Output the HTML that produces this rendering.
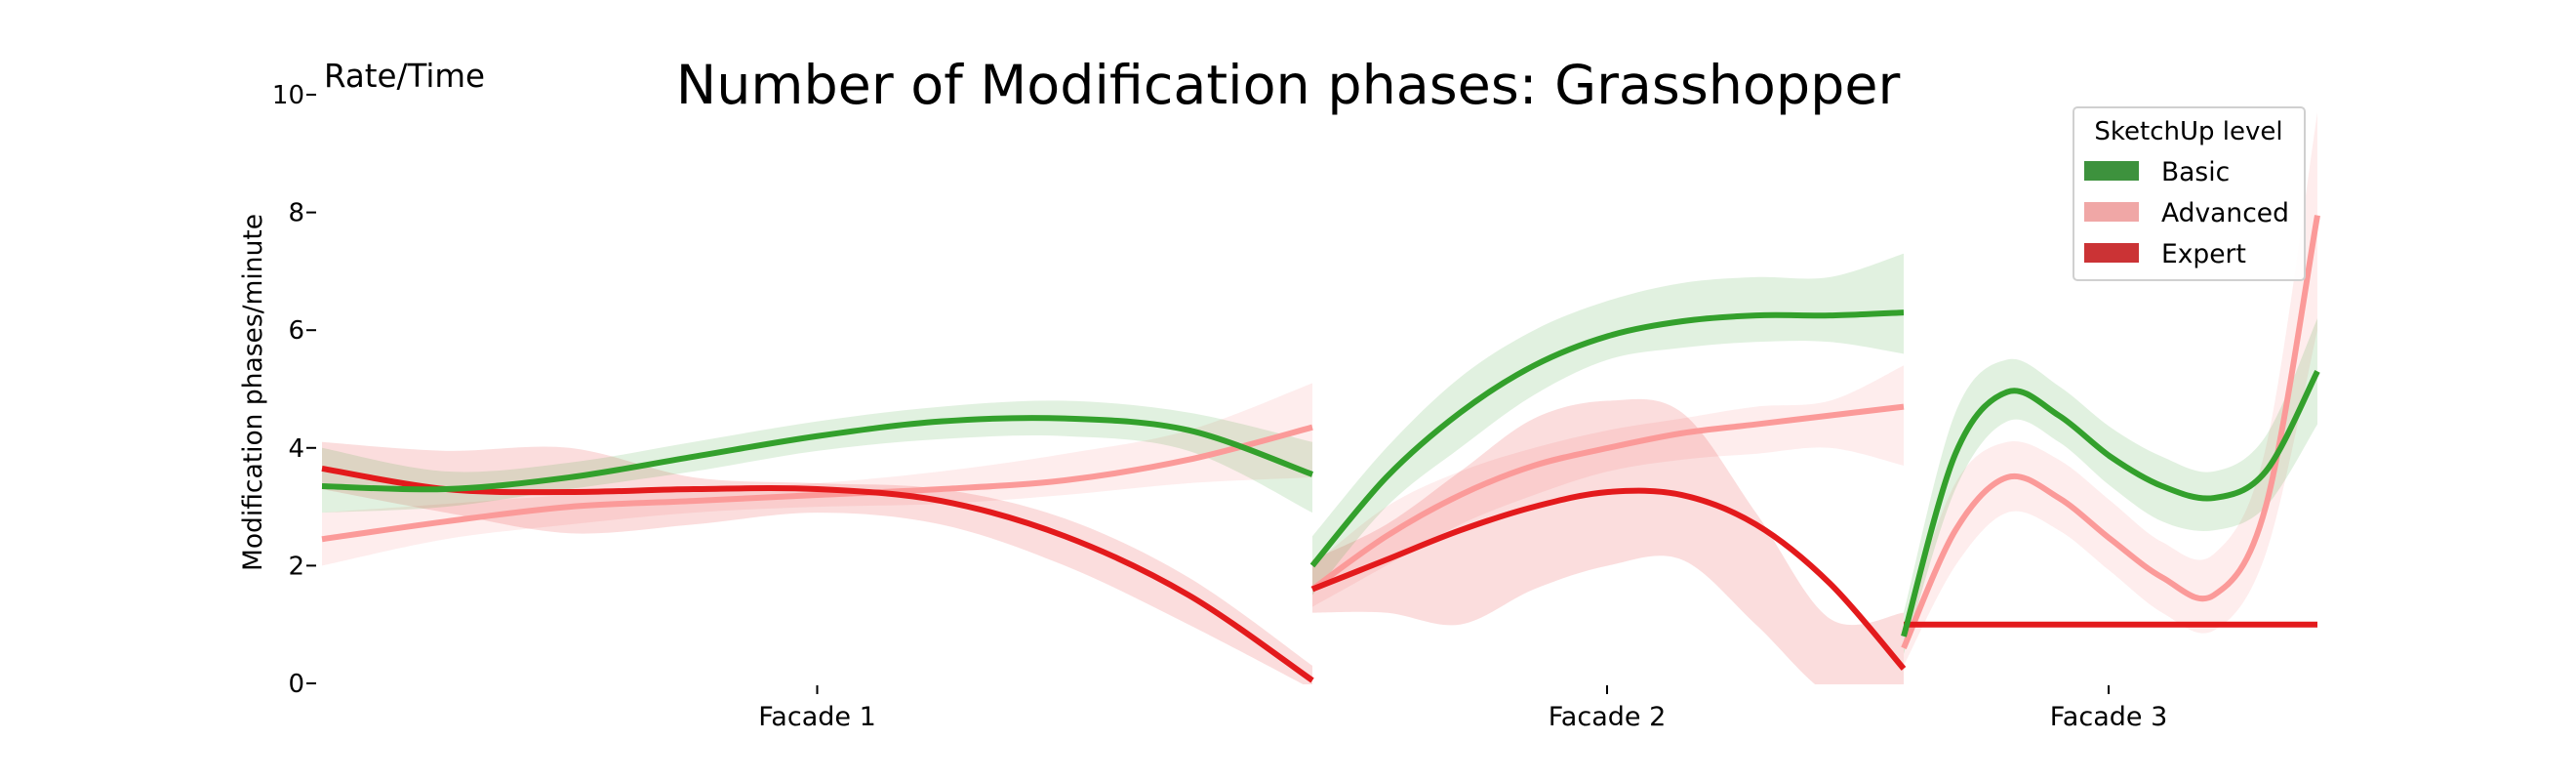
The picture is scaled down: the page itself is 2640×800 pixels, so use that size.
<!DOCTYPE html>
<html><head><meta charset="utf-8"><style>
html,body{margin:0;padding:0;background:#fff;}
svg{display:block;font-family:"DejaVu Sans","Liberation Sans",sans-serif;}
</style></head><body>
<svg id="chart" width="2640" height="800" viewBox="0 0 2640 800">
<defs><clipPath id="plotclip"><rect x="320" y="60" width="2100" height="641"/></clipPath></defs>
<text x="1320" y="106" font-size="55.5" text-anchor="middle">Number of Modification phases: Grasshopper</text>
<text x="332" y="89" font-size="32.5">Rate/Time</text>
<text transform="translate(268,402) rotate(-90)" font-size="26.5" text-anchor="middle">Modification phases/minute</text>
<g id="yaxis"></g>
<g id="xaxis"></g>
<g id="plot" clip-path="url(#plotclip)"></g>
<g>
<rect x="2125" y="110" width="237" height="177" rx="4" fill="#fff" fill-opacity="0.85" stroke="#d0d0d0" stroke-width="2"/>
<text x="2243" y="143" font-size="26" text-anchor="middle">SketchUp level</text>
<rect x="2136" y="165" width="56" height="20" fill="#3d923d"/>
<text x="2215" y="185" font-size="26.5">Basic</text>
<rect x="2136" y="207" width="56" height="20" fill="#f0a7a6"/>
<text x="2215" y="227" font-size="26.5">Advanced</text>
<rect x="2136" y="249" width="56" height="20" fill="#cb3335"/>
<text x="2215" y="269" font-size="26.5">Expert</text>
</g>
</svg>
<script>
const yTicks = [0, 2, 4, 6, 8, 10];
const facades = ["Facade 1", "Facade 2", "Facade 3"];
const levels = ["basic", "advanced", "expert"];
// values sampled at 9 evenly spaced points across each facade
const basicLine = [[3.35,3.3,3.5,3.85,4.2,4.45,4.5,4.3,3.55],[2.0,3.5,4.6,5.4,5.9,6.15,6.25,6.25,6.3],[0.8,3.9,4.95,4.55,3.85,3.35,3.15,3.6,5.3]];
const basicLow = [[2.9,3.0,3.3,3.6,3.95,4.15,4.2,3.95,2.9],[1.5,3.0,4.0,4.9,5.5,5.7,5.8,5.8,5.6],[0.5,3.3,4.45,4.1,3.35,2.75,2.6,3.0,4.4]];
const basicHigh = [[4.0,3.6,3.75,4.1,4.45,4.7,4.8,4.6,4.1],[2.5,4.0,5.2,6.0,6.5,6.8,6.9,6.9,7.3],[1.2,4.6,5.5,5.05,4.35,3.85,3.6,4.2,6.2]];
const advLine = [[2.45,2.75,3.0,3.1,3.2,3.3,3.45,3.8,4.35],[1.6,2.5,3.2,3.7,4.0,4.25,4.4,4.55,4.7],[0.6,2.6,3.5,3.15,2.45,1.8,1.5,3.0,7.95]];
const advLow = [[2.0,2.45,2.7,2.9,3.0,3.05,3.2,3.4,3.5],[1.3,2.0,2.7,3.2,3.6,3.8,3.9,4.0,3.7],[0.3,2.0,2.9,2.6,1.9,1.2,0.9,2.2,6.0]];
const advHigh = [[2.9,3.05,3.2,3.3,3.4,3.6,3.9,4.3,5.1],[2.0,3.0,3.6,4.0,4.3,4.5,4.7,4.8,5.4],[1.0,3.4,4.1,3.8,3.1,2.4,2.2,4.0,9.7]];
const expLine = [[3.65,3.3,3.25,3.3,3.3,3.1,2.5,1.5,0.05],[1.6,2.1,2.6,3.0,3.25,3.2,2.7,1.7,0.25],[1.0,1.0,1.0,1.0,1.0,1.0,1.0,1.0,1.0]];
const expLow = [[3.3,2.9,2.55,2.7,2.9,2.7,2.0,1.0,-0.1],[1.2,1.2,1.0,1.6,2.0,2.1,1.0,-0.2,-0.5],[1.0,1.0,1.0,1.0,1.0,1.0,1.0,1.0,1.0]];
const expHigh = [[4.1,3.95,4.0,3.5,3.4,3.3,2.8,1.8,0.3],[2.1,2.7,3.6,4.5,4.8,4.6,2.9,1.1,1.2],[1.0,1.0,1.0,1.0,1.0,1.0,1.0,1.0,1.0]];

const NS = "http://www.w3.org/2000/svg";
const segBounds = [[330,1345],[1345,1951],[1951,2375]];
function yScale(v){ return 700 - v*60.3; }
function xScale(f,i,n){ const b=segBounds[f]; return b[0] + (b[1]-b[0])*i/(n-1); }
function mk(tag, attrs, parent){ const e=document.createElementNS(NS,tag); for(const k in attrs) e.setAttribute(k,attrs[k]); parent.appendChild(e); return e; }
function pts(f, arr){ return arr.map((v,i)=>[xScale(f,i,arr.length), yScale(v)]); }
function smooth(p, move){
  let d = move ? `M${p[0][0]},${p[0][1]}` : `L${p[0][0]},${p[0][1]}`;
  for(let i=0;i<p.length-1;i++){
    const p0=p[Math.max(0,i-1)], p1=p[i], p2=p[i+1], p3=p[Math.min(p.length-1,i+2)];
    const c1=[p1[0]+(p2[0]-p0[0])/6, p1[1]+(p2[1]-p0[1])/6];
    const c2=[p2[0]-(p3[0]-p1[0])/6, p2[1]-(p3[1]-p1[1])/6];
    d += ` C${c1[0]},${c1[1]} ${c2[0]},${c2[1]} ${p2[0]},${p2[1]}`;
  }
  return d;
}
const yaxis=document.getElementById('yaxis');
yTicks.forEach(t=>{
  const tx=mk('text',{x:312,y:yScale(t)+9,'font-size':26,'text-anchor':'end'},yaxis);
  tx.textContent=t;
  
  
  const ln=mk('line',{x1:314,x2:324,y1:yScale(t),y2:yScale(t),stroke:'#000','stroke-width':2},yaxis);
  
  
});
const xaxis=document.getElementById('xaxis');
facades.forEach((f,i)=>{
  const cx=(segBounds[i][0]+segBounds[i][1])/2 + (i===0?0:(i===1?-1:-2));
  const ln=mk('line',{x1:cx,x2:cx,y1:702,y2:711,stroke:'#000','stroke-width':2},xaxis);
  
  
  const tx=mk('text',{x:cx,y:743,'font-size':27,'text-anchor':'middle'},xaxis);
  tx.textContent=f;
  
  
});
const plot=document.getElementById('plot');
const series=[
  {name:'advanced',line:advLine,lo:advLow,hi:advHigh,band:'#fb9a99',bo:0.18,color:'#fb9a99'},
  {name:'expert',line:expLine,lo:expLow,hi:expHigh,band:'#e31a1c',bo:0.15,color:'#e31a1c'},
  {name:'basic',line:basicLine,lo:basicLow,hi:basicHigh,band:'#33a02c',bo:0.15,color:'#33a02c'}
];
series.forEach(s=>{
  for(let f=0;f<3;f++){
    const hi=pts(f,s.hi[f]), lo=pts(f,s.lo[f]).reverse();
    const b=mk('path',{d:smooth(hi,true)+' '+smooth(lo,false)+' Z',fill:s.band,'fill-opacity':s.bo},plot);
    
    
  }
});
series.forEach(s=>{
  for(let f=0;f<3;f++){
    const l=mk('path',{d:smooth(pts(f,s.line[f]),true),fill:'none',stroke:s.color,'stroke-width':6},plot);
    
    
  }
});
</script>
</body></html>
